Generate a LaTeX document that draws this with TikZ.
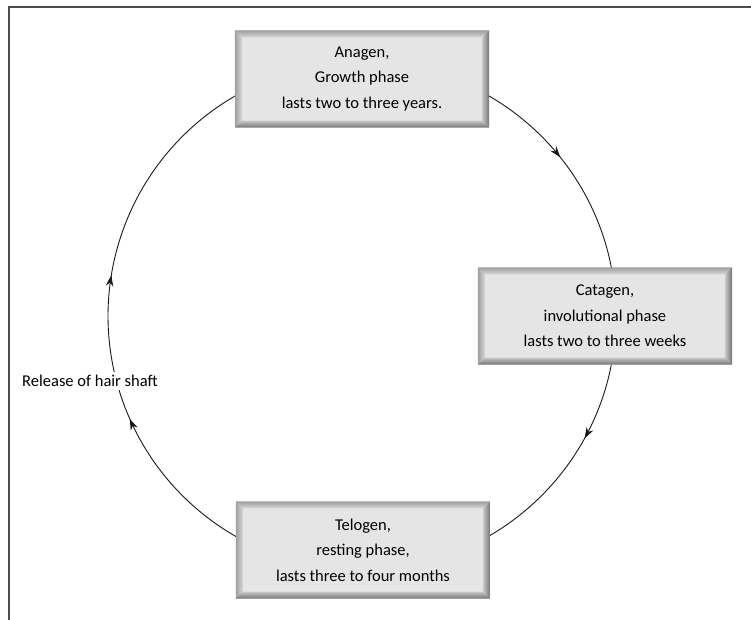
\documentclass[tikz,border=0pt]{standalone}
\usepackage{fontspec}
\setmainfont{Carlito}
\usetikzlibrary{calc,arrows.meta,decorations.markings}
\begin{document}
\begin{tikzpicture}[x=1pt,y=-1pt,
  phase/.style={fill=black!10,minimum width=254pt,minimum height=97pt,inner sep=0pt,
    align=center,font=\fontsize{16.5}{25.5}\selectfont},
  lbl/.style={fill=white,inner sep=3pt,font=\fontsize{16.5}{18}\selectfont},
  cyc/.style={line width=0.9pt,black!90},
  tip/.style={postaction={decorate},decoration={markings,
     mark=at position #1 with {\arrow{Stealth[length=11pt,width=7.5pt]}}}},
  frame/.style={line width=1.3pt,black!70}
  ]
\useasboundingbox (0,0) rectangle (751,620);
\draw[frame] (751,7) -- (9,7) -- (9,620);
\coordinate (c) at (362,316);
% cycle arcs (angles in y-down coordinates)
\draw[cyc,tip=0.57] ($(c)+(-90:254)$) arc[start angle=-90,end angle=0,radius=254];
\draw[cyc,tip=0.32] ($(c)+(0:254)$) arc[start angle=0,end angle=90,radius=254];
\draw[cyc,tip=0.88] ($(c)+(90:254)$) arc[start angle=90,end angle=165.1,radius=254];
\draw[cyc,tip=0.23] ($(c)+(165.1:254)$) arc[start angle=165.1,end angle=270,radius=254];
% phases
\node[phase] (ana) at (362,79) {Anagen,\\Growth phase\\lasts two to three years.};
\node[phase] (cat) at (605,316) {Catagen,\\involutional phase\\lasts two to three weeks};
\node[phase] (tel) at (363,550) {Telogen,\\resting phase,\\lasts three to four months};
\node[lbl] (rel) at (90,381) {Release of hair shaft};
% bevels
\foreach \n in {ana,cat,tel}{
  \def\b{7}
  \shade[top color=black!38,bottom color=black!16]
    (\n.north west) -- (\n.north east) -- ($(\n.north east)+(-\b,\b)$) -- ($(\n.north west)+(\b,\b)$) -- cycle;
  \shade[left color=black!38,right color=black!16]
    (\n.north west) -- ($(\n.north west)+(\b,\b)$) -- ($(\n.south west)+(\b,-\b)$) -- (\n.south west) -- cycle;
  \shade[left color=black!22,right color=black!55]
    (\n.north east) -- (\n.south east) -- ($(\n.south east)+(-\b,-\b)$) -- ($(\n.north east)+(-\b,\b)$) -- cycle;
  \shade[top color=black!22,bottom color=black!55]
    (\n.south west) -- (\n.south east) -- ($(\n.south east)+(-\b,-\b)$) -- ($(\n.south west)+(\b,-\b)$) -- cycle;
}
\end{tikzpicture}
\end{document}
